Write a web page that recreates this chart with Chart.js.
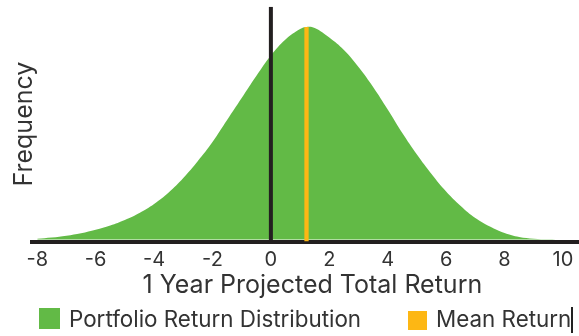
<!DOCTYPE html>
<html>
<head>
<meta charset="utf-8">
<script src="https://cdn.jsdelivr.net/npm/chart.js@4/dist/chart.umd.min.js"></script>
<style>
  html, body { margin: 0; padding: 0; background: #ffffff; }
  #wrap { position: relative; width: 579px; height: 336px; overflow: hidden; }
  #chart { position: absolute; left: 0; top: 0; }
  .legend-item { position: absolute; font-family: Inter, "Open Sans", sans-serif; font-size: 22.4px; color: #333333; white-space: nowrap; line-height: 1; }
  .legend-box { position: absolute; }
  #caret { position: absolute; left: 571px; top: 307px; width: 1.5px; height: 26px; background: #222222; }
</style>
</head>
<body>
<div id="wrap">
  <canvas id="chart" width="579" height="336"></canvas>
  <div class="legend-box" id="box0" style="left:39px; top:308px; width:21px; height:21px;"></div>
  <div class="legend-item" id="lab0" style="left:69px; top:308px;"></div>
  <div class="legend-box" id="box1" style="left:408px; top:311px; width:19px; height:19px;"></div>
  <div class="legend-item" id="lab1" style="left:436px; top:308px;"></div>
  <div id="caret"></div>
</div>
<script>
// 1-year projected total return (%) and relative frequency of each outcome
const returns = [-8, -7.5, -7, -6.5, -6, -5.5, -5, -4.5, -4, -3.5, -3, -2.5, -2, -1.5, -1, -0.5,
                 0, 0.5, 1, 1.22, 1.5, 2, 2.5, 3, 3.5, 4, 4.5, 5, 5.5, 6, 6.5, 7, 7.5, 8, 8.5, 9, 9.5, 10];
const frequency = [0.8, 2, 3.8, 6.3, 9.8, 14, 19.5, 26.5, 35.5, 47, 61.5, 78.5, 97.5, 119.5, 141.5, 163.5,
                   184, 200, 210.5, 212.6, 211.5, 202, 189.5, 172.5, 152.5, 130, 106.5, 85, 65.5, 48, 33.5, 21.5, 13, 6.5, 2.5, 0.8, 0.2, 0];

const meanReturn = 1.22;
const meanFrequency = 212.6;
const xTicks = [-8, -6, -4, -2, 0, 2, 4, 6, 8, 10];
const xRange = [-8.19, 10.55];
const yRange = [-2, 232.8];

const seriesNames = ['Portfolio Return Distribution', 'Mean Return'];
const GREEN = '#62ba46';
const ORANGE = '#fdb714';
const INK = '#231f20';
const TEXT = '#333333';
const FONT = 'Inter, "Open Sans", sans-serif';

const curve = returns.map((r, i) => ({ x: r, y: frequency[i] }));

new Chart(document.getElementById('chart'), {
  type: 'line',
  data: {
    datasets: [
      {
        label: seriesNames[0],
        data: curve,
        fill: 'origin',
        backgroundColor: GREEN,
        borderWidth: 0,
        borderColor: GREEN,
        pointRadius: 0,
        tension: 0.4,
        order: 3
      },
      {
        label: 'Zero',
        data: [{ x: 0, y: yRange[0] }, { x: 0, y: yRange[1] }],
        borderColor: INK,
        borderWidth: 4,
        pointRadius: 0,
        fill: false,
        order: 2
      },
      {
        label: seriesNames[1],
        data: [{ x: meanReturn, y: yRange[0] }, { x: meanReturn, y: meanFrequency }],
        borderColor: ORANGE,
        borderWidth: 4.3,
        pointRadius: 0,
        fill: false,
        order: 1
      }
    ]
  },
  options: {
    responsive: false,
    animation: false,
    events: [],
    layout: { padding: { left: 0, right: 0, top: 6.7, bottom: 35.3 } },
    plugins: { legend: { display: false }, tooltip: { enabled: false } },
    scales: {
      x: {
        type: 'linear',
        min: xRange[0],
        max: xRange[1],
        z: 1,
        afterFit: (scale) => { scale.height = 59.2; scale.paddingLeft = 0; scale.paddingRight = 0; },
        grid: { display: false, drawTicks: false },
        border: { display: true, color: INK, width: 4 },
        afterBuildTicks: (scale) => { scale.ticks = xTicks.map(v => ({ value: v })); },
        ticks: { color: TEXT, font: { family: FONT, size: 20 }, padding: 6.5, maxRotation: 0, autoSkip: false },
        title: { display: true, text: '\u00A0\u00A01 Year Projected Total Return', color: TEXT,
                 font: { family: FONT, size: 25 }, padding: { top: 0, bottom: 0 } }
      },
      y: {
        min: yRange[0],
        max: yRange[1],
        afterFit: (scale) => { scale.width = 31.7; scale.paddingTop = 0; scale.paddingBottom = 0; },
        grid: { display: false, drawTicks: false },
        border: { display: false },
        ticks: { display: false },
        title: { display: true, text: 'Frequency', color: TEXT,
                 font: { family: FONT, size: 25 }, padding: { top: 9, bottom: 0 } }
      }
    }
  }
});

// legend entries
document.getElementById('box0').style.background = GREEN;
document.getElementById('box1').style.background = ORANGE;
document.getElementById('lab0').textContent = seriesNames[0];
document.getElementById('lab1').textContent = seriesNames[1];
</script>
</body>
</html>
